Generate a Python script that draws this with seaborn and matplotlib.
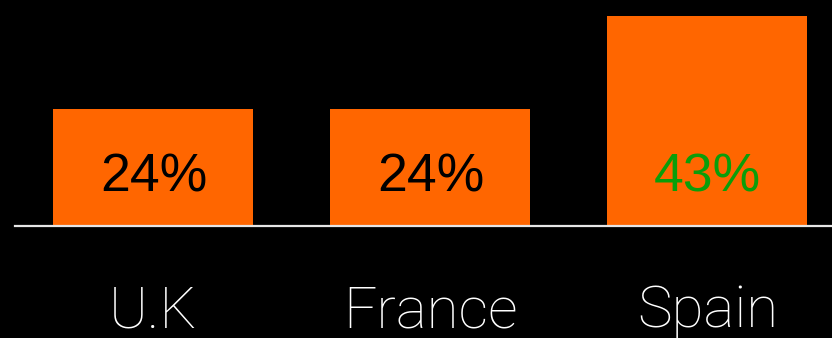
import matplotlib
matplotlib.use("Agg")
import matplotlib.pyplot as plt
import seaborn as sns
import pandas as pd

countries = ["U.K", "France", "Spain"]
shares = [24, 24, 43]
label_colors = ["#000000", "#000000", "#0a9e0a"]

sns.set_style("white")
plt.rcParams["font.family"] = ["Liberation Sans", "DejaVu Sans"]

df = pd.DataFrame({"country": countries, "share": shares})

fig = plt.figure(figsize=(8.32, 3.38), dpi=100, facecolor="black")
ax = fig.add_axes([15 / 832, 112 / 338, 1 - 15 / 832, 1 - 112 / 338])
ax.set_facecolor("black")

sns.barplot(data=df, x="country", y="share", hue="country",
            palette=["#ff6600"] * 3, width=0.722, legend=False,
            saturation=1, linewidth=0, edgecolor="none", ax=ax)

ax.set_xlim(-0.5, 2.45)
ax.set_ylim(0, 46.2)

for side in ["top", "right", "left"]:
    ax.spines[side].set_visible(False)
ax.spines["bottom"].set_color("#e6e6e6")
ax.spines["bottom"].set_linewidth(1.6)

ax.set_yticks([])
ax.set_xlabel("")
ax.set_ylabel("")
ax.tick_params(axis="x", length=0, pad=42, labelsize=42, labelcolor="white")
for lbl in ax.get_xticklabels():
    lbl.set_fontfamily(["Roboto", "DejaVu Sans"])
    lbl.set_fontweight("light")

for i, (v, c) in enumerate(zip(shares, label_colors)):
    ax.text(i, 7.0, f"{v}%", ha="center", va="baseline",
            fontsize=38.5, color=c)

fig.savefig("out.png", dpi=100, facecolor="black")
